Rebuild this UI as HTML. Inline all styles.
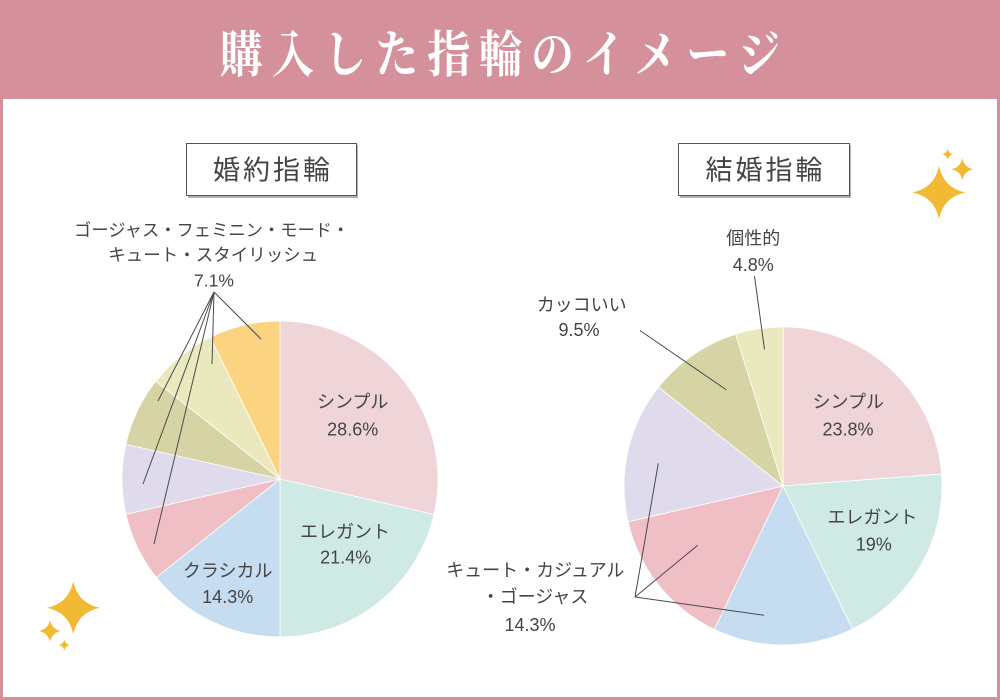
<!DOCTYPE html>
<html lang="ja">
<head>
<meta charset="utf-8">
<style>
  html, body { margin: 0; padding: 0; background: #ffffff; }
  body { width: 1000px; height: 700px; overflow: hidden; }
  svg { display: block; }
  .lbl { font-family: "Liberation Sans", "Noto Sans CJK JP", sans-serif; fill: #454545; font-size: 18px; }
  .ttl { font-family: "Liberation Sans", "Noto Sans CJK JP", sans-serif; fill: #444444; font-size: 27px; }
  .head { font-family: "Liberation Serif", "Noto Serif CJK SC", serif; fill: #ffffff; font-size: 50px; font-weight: 700; }
</style>
</head>
<body>
<svg width="1000" height="700" viewBox="0 0 1000 700" xmlns="http://www.w3.org/2000/svg">
  <defs>
    <path id="star" d="M0,-1 Q0.17,-0.17 1,0 Q0.17,0.17 0,1 Q-0.17,0.17 -1,0 Q-0.17,-0.17 0,-1 Z"/>
  </defs>

  <!-- background & frame -->
  <rect x="0" y="0" width="1000" height="700" fill="#d5919b"/>
  <rect x="3" y="99" width="994" height="598" fill="#ffffff"/>

  <!-- title -->
  <g transform="translate(500,0) scale(0.86,1)">
    <text class="head" x="0" y="72" text-anchor="middle" textLength="652" lengthAdjust="spacing">購入した指輪のイメージ</text>
  </g>

  <!-- heading boxes -->
  <rect x="188" y="145" width="170" height="53" fill="#b0b0b0"/>
  <rect x="186.5" y="143.5" width="170" height="52" fill="#ffffff" stroke="#555555" stroke-width="1"/>
  <text class="ttl" x="271.5" y="179.5" text-anchor="middle" textLength="117" lengthAdjust="spacing">婚約指輪</text>

  <rect x="680" y="145" width="171" height="53" fill="#b0b0b0"/>
  <rect x="678.5" y="143.5" width="171" height="52" fill="#ffffff" stroke="#555555" stroke-width="1"/>
  <text class="ttl" x="764" y="179.5" text-anchor="middle" textLength="117" lengthAdjust="spacing">結婚指輪</text>

  <!-- LEFT PIE: cx=280 cy=479 r=158 -->
  <g stroke="#ffffff" stroke-width="0.8">
    <path d="M280,479 L280,321 A158,158 0 0,1 433.96,514.55 Z" fill="#efd4d8"/>
    <path d="M280,479 L433.96,514.55 A158,158 0 0,1 280,637 Z" fill="#cfe9e5"/>
    <path d="M280,479 L280,637 A158,158 0 0,1 156.35,577.36 Z" fill="#c5dcf1"/>
    <path d="M280,479 L156.35,577.36 A158,158 0 0,1 125.98,514.28 Z" fill="#f0bec5"/>
    <path d="M280,479 L125.98,514.28 A158,158 0 0,1 125.87,444.27 Z" fill="#dfdaec"/>
    <path d="M280,479 L125.87,444.27 A158,158 0 0,1 155.83,381.29 Z" fill="#d6d4a4"/>
    <path d="M280,479 L155.83,381.29 A158,158 0 0,1 210.24,337.23 Z" fill="#eae8bd"/>
    <path d="M280,479 L210.24,337.23 A158,158 0 0,1 280,321 Z" fill="#fcd380"/>
  </g>
  <g stroke="#4a4a4a" stroke-width="1" fill="none">
    <line x1="214" y1="292" x2="261" y2="339"/>
    <line x1="214" y1="292" x2="212" y2="364"/>
    <line x1="214" y1="292" x2="158" y2="401"/>
    <line x1="214" y1="292" x2="143" y2="484"/>
    <line x1="214" y1="292" x2="154" y2="544"/>
  </g>
  <text class="lbl" x="352.7" y="408" text-anchor="middle">シンプル</text>
  <text class="lbl" x="352.7" y="435.5" text-anchor="middle">28.6%</text>
  <text class="lbl" x="345" y="538" text-anchor="middle">エレガント</text>
  <text class="lbl" x="345.7" y="563.5" text-anchor="middle">21.4%</text>
  <text class="lbl" x="227.7" y="577" text-anchor="middle">クラシカル</text>
  <text class="lbl" x="227.7" y="603" text-anchor="middle">14.3%</text>
  <text class="lbl" x="211.7" y="236" text-anchor="middle" style="font-size:17.3px">ゴージャス・フェミニン・モード・</text>
  <text class="lbl" x="213.3" y="261" text-anchor="middle" style="font-size:17.5px">キュート・スタイリッシュ</text>
  <text class="lbl" x="214" y="286.5" text-anchor="middle" style="font-size:17.5px">7.1%</text>

  <!-- RIGHT PIE: cx=783 cy=486 r=159 -->
  <g stroke="#ffffff" stroke-width="0.8">
    <path d="M783,486 L783,327 A159,159 0 0,1 941.55,474.08 Z" fill="#efd4d8"/>
    <path d="M783,486 L941.55,474.08 A159,159 0 0,1 852.45,629.03 Z" fill="#cfe9e5"/>
    <path d="M783,486 L852.45,629.03 A159,159 0 0,1 714.30,629.39 Z" fill="#c5dcf1"/>
    <path d="M783,486 L714.30,629.39 A159,159 0 0,1 628.08,521.77 Z" fill="#f0bec5"/>
    <path d="M783,486 L628.08,521.77 A159,159 0 0,1 658.56,387.02 Z" fill="#dfdaec"/>
    <path d="M783,486 L658.56,387.02 A159,159 0 0,1 735.72,334.19 Z" fill="#d6d4a4"/>
    <path d="M783,486 L735.72,334.19 A159,159 0 0,1 783,327 Z" fill="#eae8bd"/>
  </g>
  <g stroke="#4a4a4a" stroke-width="1" fill="none">
    <line x1="754.5" y1="276" x2="764.5" y2="349.5"/>
    <line x1="640" y1="330.5" x2="726.6" y2="390"/>
    <line x1="635" y1="597" x2="658.3" y2="463.3"/>
    <line x1="635" y1="597" x2="697.7" y2="545.3"/>
    <line x1="635" y1="597" x2="764" y2="615.3"/>
  </g>
  <text class="lbl" x="848.3" y="408" text-anchor="middle">シンプル</text>
  <text class="lbl" x="848" y="435.5" text-anchor="middle">23.8%</text>
  <text class="lbl" x="872.4" y="523.5" text-anchor="middle">エレガント</text>
  <text class="lbl" x="873.8" y="550.5" text-anchor="middle">19%</text>
  <text class="lbl" x="753.3" y="244.5" text-anchor="middle">個性的</text>
  <text class="lbl" x="753.3" y="271" text-anchor="middle">4.8%</text>
  <text class="lbl" x="581.7" y="311" text-anchor="middle">カッコいい</text>
  <text class="lbl" x="579" y="336" text-anchor="middle">9.5%</text>
  <text class="lbl" x="535.3" y="576.5" text-anchor="middle">キュート・カジュアル</text>
  <text class="lbl" x="535" y="603" text-anchor="middle">・ゴージャス</text>
  <text class="lbl" x="530" y="631" text-anchor="middle">14.3%</text>

  <!-- sparkles -->
  <g fill="#f2b935">
    <use href="#star" transform="translate(939,192.5) scale(26.5)"/>
    <use href="#star" transform="translate(962.3,169.3) scale(11)"/>
    <use href="#star" transform="translate(947.7,154.3) scale(5.5)"/>
    <use href="#star" transform="translate(73.3,607.7) scale(26.5)"/>
    <use href="#star" transform="translate(50,631) scale(11)"/>
    <use href="#star" transform="translate(64.3,645) scale(5.5)"/>
  </g>
</svg>
</body>
</html>
